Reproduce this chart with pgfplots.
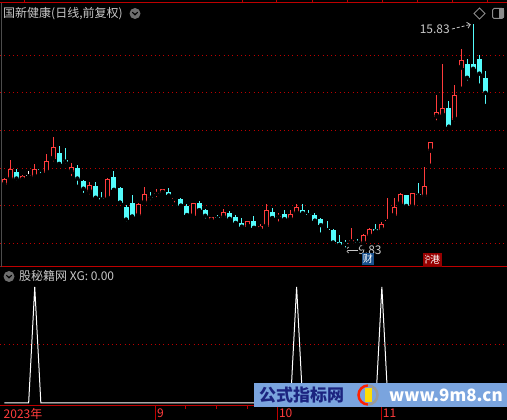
\documentclass[border=0pt]{standalone}
\usepackage{pgfplots}
\pgfplotsset{compat=1.18}
\usepackage{pgfplotstable}
\usetikzlibrary{arrows.meta}
\usepackage{fontspec}
\setmainfont{Noto Sans CJK SC}
\definecolor{cRed}{RGB}{255,60,60}
\definecolor{cCyan}{RGB}{84,252,252}
\definecolor{gRed}{RGB}{190,0,0}
\definecolor{tGray}{RGB}{200,200,200}
\definecolor{iconGray}{RGB}{110,110,110}
\definecolor{badgeBlue}{RGB}{25,80,140}
\definecolor{badgeRed}{RGB}{150,0,0}
\definecolor{wmBlue}{RGB}{122,164,222}
\definecolor{wmNavy}{RGB}{28,36,128}

\pgfplotstableread{
i O H L C
0 11.56 11.73 11.53 11.70
1 11.70 12.21 11.64 11.97
2 11.89 11.97 11.61 11.72
3 11.69 11.81 11.68 11.78
4 11.79 11.92 11.77 11.79
5 11.77 12.11 11.77 11.97
6 11.98 12.00 11.81 11.95
7 11.88 12.37 11.87 12.18
8 12.25 12.83 12.12 12.55
9 12.40 12.59 12.08 12.11
10 12.19 12.53 12.06 12.17
11 11.90 12.12 11.73 12.02
12 12.00 12.07 11.50 11.72
13 11.66 11.68 11.28 11.45
14 11.37 11.62 11.24 11.54
15 11.52 11.62 11.19 11.21
16 11.20 11.36 11.15 11.16
17 11.19 11.73 11.18 11.70
18 11.76 11.92 11.40 11.42
19 11.46 11.49 11.07 11.08
20 10.96 11.02 10.52 10.63
21 11.07 11.27 10.70 10.71
22 10.73 11.06 10.73 11.04
23 11.08 11.50 11.07 11.30
24 11.23 11.36 11.09 11.21
25 11.31 11.45 11.17 11.34
26 11.34 11.43 11.26 11.43
27 11.36 11.46 11.24 11.27
28 11.18 11.22 11.03 11.20
29 11.17 11.19 10.99 11.00
30 10.99 11.03 10.72 10.75
31 10.72 11.07 10.71 11.07
32 11.07 11.12 10.86 10.88
33 10.88 10.92 10.60 10.73
34 10.63 10.69 10.55 10.69
35 10.68 10.74 10.60 10.66
36 10.68 10.91 10.60 10.83
37 10.80 10.86 10.61 10.65
38 10.69 10.74 10.52 10.54
39 10.54 10.66 10.39 10.44
40 10.44 10.60 10.35 10.58
41 10.59 10.72 10.39 10.41
42 10.37 10.50 10.36 10.45
43 10.44 11.04 10.39 10.88
44 10.83 10.94 10.66 10.67
45 10.70 10.80 10.52 10.72
46 10.78 10.88 10.62 10.64
47 10.63 10.88 10.62 10.78
48 10.80 11.04 10.79 10.96
49 10.88 11.04 10.76 10.80
50 10.77 10.88 10.71 10.75
51 10.75 10.80 10.53 10.60
52 10.64 10.66 10.23 10.48
53 10.37 10.59 10.33 10.35
54 10.35 10.39 10.00 10.02
55 10.03 10.22 9.86 9.96
56 10.00 10.09 9.83 9.98
57 10.02 10.41 9.98 10.09
58 10.03 10.10 9.93 10.01
59 10.00 10.25 9.89 10.22
60 10.19 10.41 10.14 10.37
61 10.39 10.51 10.25 10.32
62 10.35 10.57 10.25 10.50
63 10.59 11.20 10.58 10.62
64 10.73 11.20 10.73 10.96
65 11.04 11.34 11.02 11.31
66 11.28 11.29 10.95 10.99
67 10.97 11.34 10.97 11.34
68 11.28 11.60 11.20 11.27
69 11.24 12.03 11.16 11.52
70 12.46 12.68 12.06 12.68
71 13.37 13.94 13.21 13.48
72 13.40 14.77 13.31 13.60
73 13.60 13.78 13.05 13.10
74 13.29 14.21 13.18 13.93
75 14.67 15.17 14.11 14.86
76 14.77 14.90 14.27 14.40
77 14.77 15.83 14.56 14.64
78 14.90 15.01 14.19 14.51
79 14.39 14.58 13.65 14.00
}\kdata

\pgfplotsset{
  candle/.style n args={3}{only marks, mark=none, forget plot,
    restrict expr to domain={\thisrow{C}-\thisrow{O}}{#1},
    error bars/.cd, y dir=plus, y explicit, error mark=none,
    error bar style={draw=#2, line width=#3}},
}

\begin{document}
\begin{tikzpicture}[x=1bp,y=1bp]
\useasboundingbox (0bp,0bp) rectangle (507bp,420bp);
\fill[black] (0bp,0bp) rectangle (507bp,420bp);

% ---------------- main price panel ----------------
\begin{axis}[at={(0bp,153bp)}, anchor=south west,
  width=507bp, height=264bp, scale only axis,
  xmin=-0.706, xmax=82.55, ymin=9.367, ymax=16.389,
  axis line style={draw=none}, tick style={draw=none},
  xtick=\empty, ytick={10,11,12,13,14,15}, yticklabels={},
  major tick length=0pt,
  ymajorgrids, grid style={gRed, line width=1bp, dash pattern=on 1bp off 3.3bp},
  clip=false]
% up candles
\addplot[candle={0.001:100}{cRed}{1bp}] table[x=i, y=L, y error plus expr=\thisrow{H}-\thisrow{L}] {\kdata};
\addplot[candle={0.001:100}{cRed}{5bp}] table[x=i, y=O, y error plus expr={max(\thisrow{C}-\thisrow{O},0.03)}] {\kdata};
\addplot[candle={0.06:100}{black}{3bp}] table[x=i, y expr=\thisrow{O}+0.0266, y error plus expr=\thisrow{C}-\thisrow{O}-0.0532] {\kdata};
% down candles
\addplot[candle={-100:-0.001}{cCyan}{1bp}] table[x=i, y=L, y error plus expr=\thisrow{H}-\thisrow{L}] {\kdata};
\addplot[candle={-100:-0.001}{cCyan}{5bp}] table[x=i, y=C, y error plus expr={max(\thisrow{O}-\thisrow{C},0.03)}] {\kdata};
% flat candles
\addplot[candle={-0.0005:0.0005}{white}{1bp}] table[x=i, y=L, y error plus expr=\thisrow{H}-\thisrow{L}] {\kdata};
\addplot[candle={-0.0005:0.0005}{white}{5bp}] table[x=i, y expr=\thisrow{O}-0.015, y error plus expr=0.03] {\kdata};

% borders
\draw[gRed, line width=1bp] (rel axis cs:0,1) -- (rel axis cs:1,1);
\draw[gRed, line width=1bp] (rel axis cs:0,0) -- (rel axis cs:1,0);

% high / low annotations
\node[anchor=east, inner sep=0pt, text=tGray, font=\fontsize{12bp}{14bp}\selectfont] at (axis cs:73.19,15.697) {15.83};
\draw[tGray, line width=0.8bp, dash pattern=on 3bp off 2bp, -{Straight Barb[length=3bp]}] (axis cs:73.5,15.697) -- (axis cs:76.6,15.82);
\draw[tGray, line width=0.8bp, -{Straight Barb[length=3bp]}] (axis cs:58.0,9.819) -- (axis cs:55.95,9.819);
\node[anchor=west, inner sep=0pt, text=tGray, font=\fontsize{12bp}{14bp}\selectfont] at (axis cs:58.1,9.819) {9.83};

% badges
\node[fill=badgeBlue, text=white, inner sep=0pt, minimum width=12bp, minimum height=12bp, font=\fontsize{10bp}{10bp}\selectfont] at (axis cs:59.72,9.58) {财};
\node[fill=badgeRed, text=white, inner sep=0pt, minimum width=19bp, minimum height=14bp, font=\fontsize{10bp}{10bp}\selectfont] at (axis cs:70.31,9.554) {\scalebox{0.55}[1]{沪}港};
\end{axis}

% ---------------- XG indicator panel ----------------
\begin{axis}[at={(0bp,14bp)}, anchor=south west,
  width=507bp, height=139bp, scale only axis,
  xmin=-0.706, xmax=82.55, ymin=-0.0259, ymax=1.1724,
  axis line style={draw=none},
  ytick={0.5}, yticklabels={}, ytick style={draw=none},
  ymajorgrids, grid style={gRed, line width=1bp, dash pattern=on 1bp off 3.3bp},
  xtick={24.83,44.83,61.9}, xticklabels={9,10,11},
  extra x ticks={-0.38}, extra x tick labels={2023年},
  extra x tick style={major tick length=0pt, xticklabel style={yshift=-14bp}},
  minor xtick={29.83,34.87,39.9},
  xtick pos=left, tick align=outside,
  major tick length=14bp, minor tick length=3bp,
  xtick style={draw=gRed, line width=1bp},
  minor x tick style={draw=gRed, line width=1bp},
  xticklabel style={anchor=north west, inner sep=0pt, xshift=1.5bp, yshift=11.5bp, text=cRed, font=\fontsize{12bp}{14bp}\selectfont},
  clip=false]
\addplot[white, line width=1bp, mark=none] coordinates {
(0,0)(1,0)(2,0)(3,0)(4,0)(5,1)(6,0)(7,0)(8,0)(9,0)(10,0)(11,0)(12,0)(13,0)(14,0)(15,0)(16,0)(17,0)(18,0)(19,0)
(20,0)(21,0)(22,0)(23,0)(24,0)(25,0)(26,0)(27,0)(28,0)(29,0)(30,0)(31,0)(32,0)(33,0)(34,0)(35,0)(36,0)(37,0)(38,0)(39,0)
(40,0)(41,0)(42,0)(43,0)(44,0)(45,0)(46,0)(47,0)(48,1)(49,0)(50,0)(51,0)(52,0)(53,0)(54,0)(55,0)(56,0)(57,0)(58,0)(59,0)
(60,0)(61,0)(62,1)(63,0)(64,0)(65,0)(66,0)(67,0)(68,0)(69,0)(70,0)(71,0)(72,0)(73,0)(74,0)(75,0)(76,0)(77,0)(78,0)(79,0)
};
\draw[gRed, line width=1bp] (rel axis cs:0,0) -- (rel axis cs:1,0);
\end{axis}

% ---------------- decorations ----------------
% top border ticks
\foreach \tx in {24,242,276,312,347,382,417,452,487}{\draw[gRed, line width=1bp] (\tx bp,417bp) -- (\tx bp,420bp);}
% left edge line
\draw[gray!60!black, line width=1bp] (1bp,153bp) -- (1bp,417bp);
% title
\node[anchor=west, inner sep=0pt, text=tGray, font=\fontsize{12bp}{14bp}\selectfont] at (3bp,406.5bp) {国新健康(日线,前复权)};
\fill[iconGray] (135bp,406.5bp) circle (5.5bp);
\draw[black, line width=1.2bp] (132.3bp,407.8bp) -- (135bp,405.2bp) -- (137.7bp,407.8bp);
% top-right icons
\draw[tGray!70!black, line width=0.8bp] (479.5bp,412bp) -- (485bp,406.5bp) -- (479.5bp,401bp) -- (474bp,406.5bp) -- cycle;
\draw[tGray!70!black, line width=1bp, rounded corners=1.5bp] (492.5bp,401.5bp) rectangle (503.5bp,411.5bp);
\fill[tGray!70!black] (498.5bp,401.5bp) rectangle (503.5bp,411.5bp);
% XG title
\fill[iconGray] (9bp,143.5bp) circle (5.5bp);
\draw[black, line width=1.2bp] (6.3bp,144.8bp) -- (9bp,142.2bp) -- (11.7bp,144.8bp);
\node[anchor=west, inner sep=0pt, text=tGray, font=\fontsize{12bp}{14bp}\selectfont] at (19bp,144bp) {股秘籍网 XG: 0.00};
% watermark banner
\fill[wmBlue] (254bp,13bp) rectangle (507bp,37bp);
\node[anchor=west, inner sep=0pt, text=wmNavy, font=\fontsize{17bp}{19bp}\selectfont\bfseries] at (259bp,25bp) {公式指标网};
\draw[red!75!orange, line width=2.5bp] (368bp,25bp) ++(90:9.5bp) arc (90:270:9.5bp);
\draw[gray!80, line width=2.5bp] (368bp,25bp) ++(-90:9.5bp) arc (-90:90:9.5bp);
\fill[yellow!80!orange] (364.5bp,18bp) rectangle (371.5bp,32bp);
\node[anchor=west, inner sep=0pt, text=white, font=\fontsize{17bp}{19bp}\selectfont\bfseries] at (389bp,25bp) {www.9m8.cn};
\end{tikzpicture}
\end{document}
